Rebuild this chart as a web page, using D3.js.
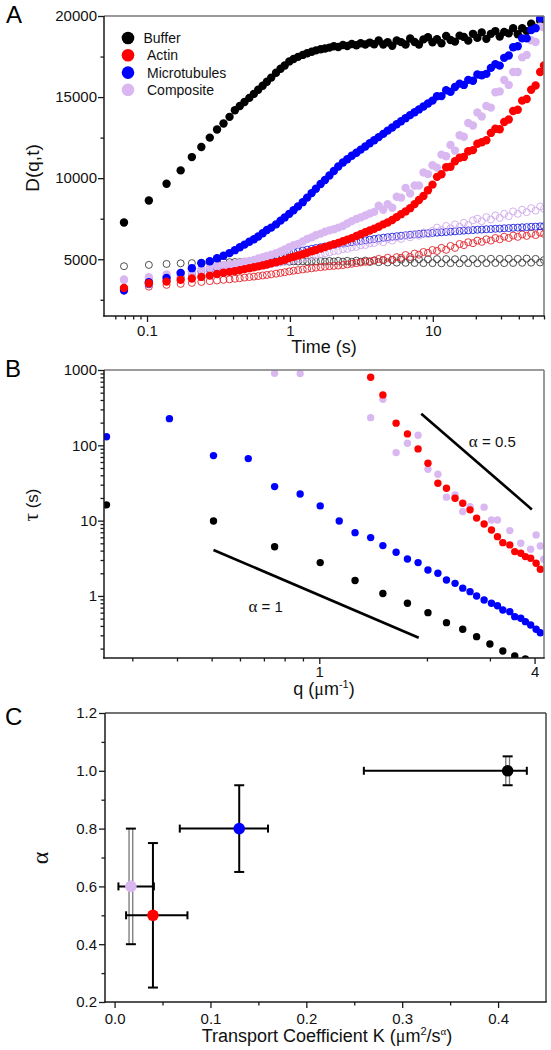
<!DOCTYPE html>
<html><head><meta charset="utf-8">
<script src="https://cdn.jsdelivr.net/npm/d3@7"></script>
<style>body{margin:0;background:#fff} svg{display:block}</style>
</head><body>
<script>
// ---------- Panel A data ----------
const timeA = [0.069,0.103,0.137,0.172,0.206,0.240,0.275,0.309,0.343,0.378,0.412,0.446,0.481,
 0.52,0.56,0.60,0.645,0.69,0.74,0.80,0.86,0.92,0.99,
 1.06,1.14,1.23,1.32,1.42,1.52,1.64,1.76,1.89,
 2.03,2.18,2.35,2.52,2.71,2.92,3.13,3.37,3.62,3.89,
 4.18,4.5,4.83,5.2,5.59,6.0,6.45,6.94,7.46,8.0,8.6,9.25,9.95,
 10.7,11.5,12.4,13.3,14.3,15.4,16.5,17.7,19.1,
 20.5,22.0,23.7,25.5,27.4,29.4,31.6,34.0,36.5,
 39.3,42.2,45.4,48.8,52.4,56.4,60.0];
const bufferFilled = [7270,8620,9660,10480,11300,11920,12500,13000,13370,13780,14190,14450,14700,
 14950,15200,15450,15700,15950,16200,16500,16750,16950,17200,
 17350,17480,17600,17700,17800,17880,17950,18000,18050,
 18130,18090,18210,18150,18270,18200,18320,18240,18360,18260,
 18490,18240,18380,18170,18490,18390,18240,18610,18400,18240,18560,18690,18380,
 18570,18320,18770,18520,18420,18790,18710,18480,18900,
 18650,18990,18590,18900,19070,18740,19020,18930,19250,
 18880,19250,19070,19520,19270,19700,19350];
const actinFilled = [3230,3520,3620,3730,3810,3910,3990,4090,4170,4220,4270,4330,4390,
 4450,4510,4560,4620,4680,4750,4820,4900,4970,5080,
 5150,5230,5310,5400,5490,5570,5660,5750,5840,
 5930,6010,6110,6210,6300,6430,6540,6660,6770,6880,
 7000,7150,7270,7420,7600,7780,7950,8150,8400,8650,8900,9250,9600,
 10080,10240,10670,10700,11040,11260,11310,11660,11730,
 12120,12210,12340,12790,13050,13020,13460,13620,14140,
 14220,14780,14880,15450,15710,16550,16950];
const mtFilled = [3100,3580,3850,4150,4450,4750,4880,5060,5220,5380,5560,5740,5900,
 6080,6230,6400,6600,6800,6950,7150,7380,7580,7800,
 8020,8260,8520,8800,9080,9350,9640,9890,10160,
 10440,10720,10970,11170,11380,11570,11760,11950,12150,12340,
 12530,12730,12930,13120,13320,13510,13700,13890,14060,14240,14420,14600,14780,
 15050,15060,15420,15320,15620,15830,15750,16060,16010,
 16390,16350,16430,16800,17030,16940,17420,17560,18070,
 18130,18620,18620,19130,19250,19860,19950];
const compFilled = [3750,3890,4060,4160,4260,4400,4500,4600,4650,4690,4720,4790,4850,
 4900,4950,5050,5120,5200,5280,5380,5480,5600,5750,
 5870,5950,6100,6250,6350,6480,6580,6700,6780,
 6850,6950,7050,7200,7350,7480,7580,7700,7820,7920,
 8300,8050,8400,8180,8850,8800,9400,9050,9550,9550,10350,10250,10800,
 10650,11450,11350,12050,11700,12650,12550,13400,13250,
 14050,13800,14450,14350,15300,15350,16050,15750,16550,
 16550,17450,17600,18500,18400,19350,19300];
const bufferHollow = [4570,4650,4710,4750,4760,4790,4800,4810,4820,4820,4830,4830,4840,
 4840,4850,4840,4850,4860,4850,4860,4850,4870,4850,
 4870,4860,4880,4860,4880,4860,4890,4860,4890,
 4860,4900,4850,4900,4840,4910,4850,4920,4830,4930,
 4820,4950,4800,4960,4790,4980,4780,4990,4770,5000,4760,5000,4760,
 5010,4750,5010,4760,5000,4750,5020,4760,5010,
 4750,5020,4760,5030,4770,5020,4760,5030,4770,
 5020,4780,5040,4790,5020,4800,4950];
const actinHollow = [3170,3310,3420,3480,3540,3600,3650,3690,3730,3760,3800,3830,3870,
 3900,3930,3960,4000,4030,4070,4110,4160,4200,4250,
 4290,4330,4370,4410,4440,4480,4510,4540,4570,
 4590,4610,4640,4680,4720,4760,4800,4840,4880,4920,
 5020,4940,5090,4970,5130,5090,5260,5140,5350,5280,5450,5390,5570,
 5510,5700,5580,5820,5700,5940,5870,6050,5990,
 6150,6070,6230,6150,6310,6230,6390,6310,6460,
 6380,6530,6440,6590,6490,6640,6560];
const mtHollow = [3050,3450,3700,3900,4100,4250,4380,4480,4560,4630,4700,4760,4810,
 4860,4910,4960,5000,5050,5090,5140,5290,5340,5390,
 5440,5490,5540,5590,5640,5690,5740,5790,5840,
 5890,5930,5970,6010,6050,6090,6130,6170,6210,6250,
 6290,6330,6360,6390,6420,6450,6480,6510,6530,6560,6580,6600,6620,
 6640,6660,6680,6700,6720,6740,6760,6780,6800,
 6820,6830,6850,6860,6880,6890,6910,6920,6940,
 6950,6970,6980,7000,7010,7030,7040];
const compHollow = [3700,3820,3920,4000,4080,4150,4200,4250,4300,4340,4380,4420,4460,
 4500,4540,4580,4620,4660,4700,4750,4800,4850,4900,
 4950,5000,5060,5120,5180,5240,5300,5360,5420,
 5500,5520,5620,5640,5740,5760,5860,5880,5980,6000,
 6150,6050,6250,6150,6350,6250,6450,6350,6550,6450,6650,6550,6750,
 6950,6800,7050,6900,7150,7000,7250,7100,7400,
 7500,7350,7600,7450,7700,7550,7800,7650,7950,
 7800,8050,7900,8150,8000,8250,8100];
const legendNames = ["Buffer","Actin","Microtubules","Composite"];
const yTicksA = [5000,10000,15000,20000];
const yMinorA = [2500,7500,12500,17500];
const xTicksA = [0.1,1,10];
const xMinorA = [0.06,0.07,0.08,0.09,0.2,0.3,0.4,0.5,0.6,0.7,0.8,0.9,2,3,4,5,6,7,8,9,20,30,40,50,60];

// ---------- Panel B data ----------
const qBuffer = [0.254,0.506,0.75,1.006,1.259,1.506,1.764,2.013,2.268,2.518,2.754,3.0,3.26,3.52,3.77];
const tauBuffer = [16.2,9.9,4.5,2.77,1.6,1.08,0.8,0.6,0.442,0.361,0.288,0.23,0.186,0.16,0.146];
const qMT = [0.254,0.381,0.506,0.633,0.75,0.884,1.006,1.137,1.259,1.392,1.506,1.64,1.764,1.889,2.013,2.146,2.268,2.397,2.518,2.64,2.754,2.89,3.03,3.15,3.26,3.41,3.52,3.66,3.77,3.90,4.04,4.15];
const tauMT = [130,226,73,66.6,28.3,22.6,15.7,9.9,6.93,5.95,4.66,3.8,3.1,2.77,2.21,2.0,1.63,1.47,1.27,1.14,1.0,0.885,0.8,0.74,0.652,0.619,0.531,0.505,0.456,0.412,0.361,0.325];
const qActin = [1.392,1.506,1.64,1.764,1.889,2.013,2.146,2.268,2.397,2.518,2.64,2.754,2.89,3.03,3.15,3.26,3.41,3.52,3.66,3.77,3.90,4.04,4.15];
const tauActin = [802,467,197,141.7,89.6,57.8,31.4,26.9,19.8,17,13.9,10.8,9.04,7.52,6.13,5.1,4.76,3.88,3.69,3.33,3.17,2.72,2.26];
const qComp = [0.75,0.884,1.392,1.506,1.64,1.764,1.889,2.013,2.146,2.268,2.397,2.518,2.64,2.89,3.03,3.15,3.41,3.66,3.90,4.04,4.15,4.24];
const tauComp = [906,900,233,409,80,106.7,136,48.2,41.3,20.5,21.9,13.2,15.3,15.1,10.2,10.2,7.37,5.01,4.17,6.46,4.61,3.07];
const slopeLine1 = [[0.506,4.08],[1.897,0.279]];
const slopeLine2 = [[1.928,262],[3.93,14.1]];
const yTicksB = [1,10,100,1000];
const yMinorB = [0.2,0.3,0.4,0.5,0.6,0.7,0.8,0.9,2,3,4,5,6,7,8,9,20,30,40,50,60,70,80,90,200,300,400,500,600,700,800,900];
const xTicksB = [1,4];
const xMinorB = [0.3,0.4,0.5,0.6,0.7,0.8,0.9,2,3];

// ---------- Panel C data ----------
const namesC = ["Composite","Actin","Microtubules","Buffer"];
const kC = [0.017,0.04,0.13,0.41];
const kLo = [0.004,0.012,0.068,0.26];
const kHi = [0.041,0.076,0.16,0.43];
const alphaC = [0.6,0.5,0.8,1.0];
const aLo = [0.4,0.25,0.65,0.95];
const aHi = [0.8,0.75,0.95,1.05];
const yTicksC = [0.2,0.4,0.6,0.8,1.0,1.2];
const yMinorC = [0.3,0.5,0.7,0.9,1.1];
const xTicksC = [0.0,0.1,0.2,0.3,0.4];
const xMinorC = [0.05,0.15,0.25,0.35];

// ---------- styles ----------
const FONT = '"Liberation Sans", Arial, sans-serif';
const SERIF = '"Liberation Serif", "DejaVu Serif", serif';
const COL = {Buffer:"#000000", Actin:"#ff0000", Microtubules:"#0000ff", Composite:"#d9b8f2"};
const AX = "#1a1a1a", FR = "#7a7a7a";

const svg = d3.select("body").append("svg").attr("width",551).attr("height",1050);
const defs = svg.append("defs");
function zip(a,b){const n=Math.min(a.length,b.length);return d3.range(n).map(i=>[a[i],b[i]]);}

function addAxis(orient, scale, pos, majors, minors, fmt, pad){
  const mk = orient==="bottom" ? d3.axisBottom : d3.axisLeft;
  const tr = orient==="bottom" ? `translate(0,${pos})` : `translate(${pos},0)`;
  const gm = svg.append("g").attr("transform",tr).call(mk(scale).tickValues(minors).tickSize(3.5).tickFormat(""));
  const gM = svg.append("g").attr("transform",tr).call(mk(scale).tickValues(majors).tickSize(6).tickPadding(pad).tickFormat(fmt));
  [gm,gM].forEach(g=>{g.select(".domain").remove();g.selectAll(".tick line").attr("stroke",AX).attr("stroke-width",1.3);});
  gM.selectAll(".tick text").attr("font-size",15).attr("fill","#111").attr("font-family",FONT);
  return gM;
}
function frame(x0,x1,y0,y1,fr){
  svg.append("line").attr("x1",x0).attr("x2",x1).attr("y1",y0).attr("y2",y0).attr("stroke",fr).attr("stroke-width",1.5);
  svg.append("line").attr("x1",x1).attr("x2",x1).attr("y1",y0).attr("y2",y1).attr("stroke",fr).attr("stroke-width",1.5);
  svg.append("line").attr("x1",x0).attr("x2",x0).attr("y1",y0).attr("y2",y1+0.75).attr("stroke",AX).attr("stroke-width",1.5);
  svg.append("line").attr("x1",x0-0.75).attr("x2",x1+0.75).attr("y1",y1).attr("y2",y1).attr("stroke",AX).attr("stroke-width",1.5);
}
function clip(id,x0,x1,y0,y1){
  defs.append("clipPath").attr("id",id).append("rect").attr("x",x0).attr("y",y0).attr("width",x1-x0).attr("height",y1-y0);
}
function panelLabel(t,x,y){
  svg.append("text").attr("x",x).attr("y",y).attr("font-family",FONT).attr("font-size",24).attr("fill","#000").text(t);
}

// ================= Panel A =================
const A = {l:104,r:544,t:16,b:316};
const xA = d3.scaleLog().domain([0.05,60]).range([A.l,A.r]);
const yA = d3.scaleLinear().domain([1500,20000]).range([A.b,A.t]);
clip("clipA",A.l,A.r,A.t,A.b);
const gA = svg.append("g").attr("clip-path","url(#clipA)");
[[bufferHollow,"#3c3c3c"],[actinHollow,"#e3242b"],[mtHollow,"#2323e0"],[compHollow,"#cfa8ec"]].forEach(([d,c])=>{
  gA.append("g").selectAll("circle").data(zip(timeA,d)).join("circle")
    .attr("cx",p=>xA(p[0])).attr("cy",p=>yA(p[1])).attr("r",3.5)
    .attr("fill","none").attr("stroke",c).attr("stroke-width",0.9);
});
[[bufferFilled,COL.Buffer],[compFilled,COL.Composite],[mtFilled,COL.Microtubules],[actinFilled,COL.Actin]].forEach(([d,c])=>{
  gA.append("g").selectAll("circle").data(zip(timeA,d)).join("circle")
    .attr("cx",p=>xA(p[0])).attr("cy",p=>yA(p[1])).attr("r",4.2).attr("fill",c);
});
frame(A.l,A.r,A.t,A.b,FR);
addAxis("left",yA,A.l,yTicksA,yMinorA,d3.format("d"),1);
addAxis("bottom",xA,A.b,xTicksA,xMinorA,d=>String(d),3);
legendNames.forEach((n,i)=>{
  const y = 38 + i*17.3;
  svg.append("circle").attr("cx",128).attr("cy",y).attr("r",6.3).attr("fill",COL[n]);
  svg.append("text").attr("x",i===0?143.5:147).attr("y",y+5).attr("font-family",FONT).attr("font-size",14).attr("fill","#111").text(n);
});
svg.append("text").attr("x",(A.l+A.r)/2).attr("y",353).attr("text-anchor","middle")
  .attr("font-family",FONT).attr("font-size",18).attr("fill","#111").text("Time (s)");
svg.append("text").attr("transform","translate(39,168) rotate(-90)").attr("text-anchor","middle")
  .attr("font-family",FONT).attr("font-size",19).attr("fill","#111").text("D(q,t)");
panelLabel("A",6,23);

// ================= Panel B =================
const B = {l:104,r:544,t:370,b:658};
const xB = d3.scaleLog().domain([0.25,4.25]).range([B.l,B.r]);
const yB = d3.scaleLog().domain([0.15,1000]).range([B.b,B.t]);
clip("clipB",B.l,B.r,B.t,B.b);
const gB = svg.append("g").attr("clip-path","url(#clipB)");
[[qMT,tauMT,COL.Microtubules],[qBuffer,tauBuffer,COL.Buffer],[qComp,tauComp,COL.Composite],[qActin,tauActin,COL.Actin]].forEach(([q,t,c])=>{
  gB.append("g").selectAll("circle").data(zip(q,t)).join("circle")
    .attr("cx",p=>xB(p[0])).attr("cy",p=>yB(p[1])).attr("r",3.7).attr("fill",c);
});
const lineB = d3.line().x(p=>xB(p[0])).y(p=>yB(p[1]));
[slopeLine1,slopeLine2].forEach(L=>{
  gB.append("path").attr("d",lineB(L)).attr("stroke","#000").attr("stroke-width",2.6).attr("fill","none");
});
function alphaLabel(q,tau,val){
  const t = svg.append("text").attr("x",xB(q)).attr("y",yB(tau)).attr("font-family",FONT).attr("font-size",15).attr("fill","#111");
  t.append("tspan").attr("font-family",SERIF).attr("font-size",17).text("α");
  t.append("tspan").text(" = "+val);
}
alphaLabel(0.634,0.613,"1");
alphaLabel(2.62,95.5,"0.5");
frame(B.l,B.r,B.t,B.b,FR);
addAxis("left",yB,B.l,yTicksB,yMinorB,d3.format("d"),1);
addAxis("bottom",xB,B.b,xTicksB,xMinorB,d=>String(d),2);
{
  const t = svg.append("text").attr("x",(B.l+B.r)/2).attr("y",695).attr("text-anchor","middle")
    .attr("font-family",FONT).attr("font-size",18).attr("fill","#111");
  t.append("tspan").text("q (");
  t.append("tspan").attr("font-family",SERIF).text("μ");
  t.append("tspan").text("m");
  t.append("tspan").attr("font-size",11).attr("dy",-7).text("-1");
  t.append("tspan").attr("dy",7).text(")");
}
{
  const t = svg.append("text").attr("transform","translate(38,505) rotate(-90)").attr("text-anchor","middle")
    .attr("font-family",FONT).attr("font-size",17).attr("fill","#111");
  t.append("tspan").attr("font-family",SERIF).attr("font-size",21).text("τ");
  t.append("tspan").text("  (s)");
}
panelLabel("B",5,377);

// ================= Panel C =================
const C = {l:105,r:546,t:713,b:1002};
const xC = d3.scaleLinear().domain([-0.01,0.45]).range([C.l,C.r]);
const yC = d3.scaleLinear().domain([0.2,1.2]).range([C.b,C.t]);
frame(C.l,C.r,C.t,C.b,"#444");
addAxis("left",yC,C.l,yTicksC,yMinorC,d3.format(".1f"),2);
addAxis("bottom",xC,C.b,xTicksC,xMinorC,d3.format(".1f"),5);
const gC = svg.append("g");
namesC.forEach((n,i)=>{
  const cx = xC(kC[i]), cy = yC(alphaC[i]);
  const hollow = (n==="Composite"||n==="Buffer");
  if(hollow){
    gC.append("line").attr("x1",cx).attr("x2",cx).attr("y1",yC(aLo[i])).attr("y2",yC(aHi[i])).attr("stroke","#777").attr("stroke-width",5);
    gC.append("line").attr("x1",cx).attr("x2",cx).attr("y1",yC(aLo[i])+1).attr("y2",yC(aHi[i])-1).attr("stroke","#fff").attr("stroke-width",2.4);
  } else {
    gC.append("line").attr("x1",cx).attr("x2",cx).attr("y1",yC(aLo[i])).attr("y2",yC(aHi[i])).attr("stroke","#000").attr("stroke-width",2);
  }
  [aLo[i],aHi[i]].forEach(v=>{
    gC.append("line").attr("x1",cx-5).attr("x2",cx+5).attr("y1",yC(v)).attr("y2",yC(v)).attr("stroke","#000").attr("stroke-width",2);
  });
  gC.append("line").attr("x1",xC(kLo[i])).attr("x2",xC(kHi[i])).attr("y1",cy).attr("y2",cy).attr("stroke","#000").attr("stroke-width",2);
  [kLo[i],kHi[i]].forEach(v=>{
    gC.append("line").attr("x1",xC(v)).attr("x2",xC(v)).attr("y1",cy-4).attr("y2",cy+4).attr("stroke","#000").attr("stroke-width",2);
  });
  gC.append("circle").attr("cx",cx).attr("cy",cy).attr("r",5.8).attr("fill",COL[n]);
});
{
  const t = svg.append("text").attr("x",327).attr("y",1042).attr("text-anchor","middle")
    .attr("font-family",FONT).attr("font-size",18).attr("fill","#111");
  t.append("tspan").text("Transport Coefficient K (");
  t.append("tspan").attr("font-family",SERIF).text("μ");
  t.append("tspan").text("m");
  t.append("tspan").attr("font-size",11).attr("dy",-7).text("2");
  t.append("tspan").attr("dy",7).text("/s");
  t.append("tspan").attr("font-size",11).attr("dy",-7).attr("font-family",SERIF).text("α");
  t.append("tspan").attr("dy",7).text(")");
}
svg.append("text").attr("transform","translate(48,858) rotate(-90)").attr("text-anchor","middle")
  .attr("font-family",SERIF).attr("font-size",24).attr("fill","#111").text("α");
panelLabel("C",5,725);
</script>
</body></html>
